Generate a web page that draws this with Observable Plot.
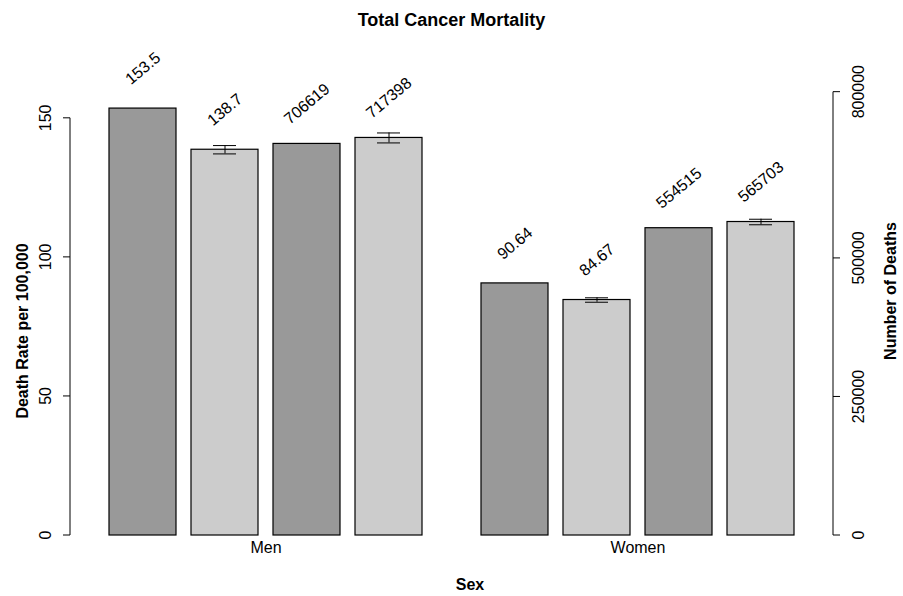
<!DOCTYPE html>
<html>
<head>
<meta charset="utf-8">
<script src="https://cdn.jsdelivr.net/npm/d3@7"></script>
<script src="https://cdn.jsdelivr.net/npm/@observablehq/plot@0.6"></script>
<style>
  body { margin: 0; background: #fff; font-family: "Liberation Sans", Arial, sans-serif; }
  h1 { margin: 0; height: 30px; line-height: 40px; font-size: 18px; text-align: center; }
</style>
</head>
<body>
<h1>Total Cancer Mortality</h1>
<div id="chart"></div>
<script>
// bars per sex: rate 2005, rate 2006, deaths 2005, deaths 2006
const sexes = ["Men", "Women"];
const bars = ["rate1", "rate2", "deaths1", "deaths2"];
const kinds = ["rate", "rate", "deaths", "deaths"];
const menValues = [153.5, 138.7, 706619, 717398];
const womenValues = [90.64, 84.67, 554515, 565703];
const menErr = [0, 1.5, 0, 9000];
const womenErr = [0, 0.8, 0, 5000];
const rateTicks = [0, 50, 100, 150];
const deathTicks = [0, 250000, 500000, 800000];

// deaths are drawn on the rate scale: 800000 deaths <-> 159.4 units
const perUnit = 800000 / 159.4;
const toRate = (v, kind) => kind === "deaths" ? v / perUnit : v;

const rows = [];
sexes.forEach((s, si) => {
  const vals = si === 0 ? menValues : womenValues;
  const errs = si === 0 ? menErr : womenErr;
  bars.forEach((b, i) => {
    rows.push({
      sex: s, bar: b, kind: kinds[i], value: vals[i],
      y: toRate(vals[i], kinds[i]),
      lo: toRate(vals[i] - errs[i], kinds[i]),
      hi: toRate(vals[i] + errs[i], kinds[i]),
      err: errs[i] > 0,
      fill: i % 2 === 0 ? "#999999" : "#cccccc"
    });
  });
});

const W = 903, H = 566, ML = 70, MR = 70;
const chart = Plot.plot({
  width: W,
  height: H,
  marginLeft: ML,
  marginRight: MR,
  marginTop: 60,
  marginBottom: 61,
  style: { fontFamily: "Liberation Sans, Arial, sans-serif", fontSize: "16px", color: "#000" },
  fx: { domain: sexes, paddingInner: 0.153, paddingOuter: 0.1, label: null },
  x: { domain: bars, paddingInner: 0.18, paddingOuter: 0, axis: null },
  y: { domain: [0, 160], axis: null },
  marks: [
    Plot.barY(rows, { fx: "sex", x: "bar", y: "y", fill: "fill", stroke: "#000", strokeWidth: 1.2 }),
    Plot.ruleX(rows.filter(d => d.err), { fx: "sex", x: "bar", y1: "lo", y2: "hi", stroke: "#000" }),
    Plot.tickY(rows.filter(d => d.err), { fx: "sex", x: "bar", y: "lo", stroke: "#000", inset: 22 }),
    Plot.tickY(rows.filter(d => d.err), { fx: "sex", x: "bar", y: "hi", stroke: "#000", inset: 22 }),
    Plot.text(rows, { fx: "sex", x: "bar", y: "y", text: d => String(d.value), rotate: -40, dy: -40, fontSize: 16 }),
    Plot.axisFx({ anchor: "bottom", tickSize: 0, tickPadding: 6, fontSize: 16, label: null })
  ]
});

const y = chart.scale("y");
const svg = d3.select(chart);
function drawAxis(x0, side, ticks, fmt, top) {
  const g = svg.append("g").attr("stroke", "#000").attr("fill", "none");
  g.append("line").attr("x1", x0).attr("x2", x0).attr("y1", y.apply(0)).attr("y2", y.apply(top));
  ticks.forEach(t => {
    const yy = y.apply(t);
    g.append("line").attr("x1", x0).attr("x2", x0 + side * 7).attr("y1", yy).attr("y2", yy);
    const lx = x0 + side * 25;
    svg.append("text").attr("x", lx).attr("y", yy).attr("dy", "0.35em")
      .attr("transform", `rotate(-90,${lx},${yy})`).attr("text-anchor", "middle")
      .attr("font-size", 16).text(fmt(t));
  });
}
drawAxis(ML, -1, rateTicks, t => String(t), 150);
drawAxis(W - MR, 1, deathTicks.map(d => d / perUnit), t => String(Math.round(t * perUnit / 1000) * 1000), 800000 / perUnit);

svg.append("text").attr("x", 22).attr("y", 301).attr("transform", "rotate(-90,22,301)").attr("dy", "0.35em")
  .attr("text-anchor", "middle").attr("font-weight", "bold").attr("font-size", 16).text("Death Rate per 100,000");
svg.append("text").attr("x", 890).attr("y", 261).attr("transform", "rotate(-90,890,261)").attr("dy", "0.35em")
  .attr("text-anchor", "middle").attr("font-weight", "bold").attr("font-size", 16).text("Number of Deaths");
svg.append("text").attr("x", 470).attr("y", 560)
  .attr("text-anchor", "middle").attr("font-weight", "bold").attr("font-size", 16).text("Sex");

document.getElementById("chart").appendChild(chart);
</script>
</body>
</html>
